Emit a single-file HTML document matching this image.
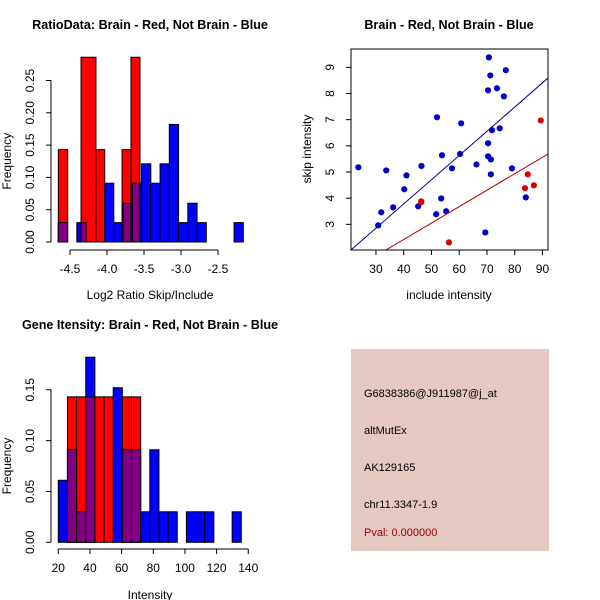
<!DOCTYPE html>
<html><head><meta charset="utf-8"><style>
body{margin:0;background:#fff}
svg{display:block;font-family:"Liberation Sans",Arial,sans-serif}
</style></head><body>
<svg id="s" width="600" height="600" viewBox="0 0 600 600" xmlns="http://www.w3.org/2000/svg">
<rect x="0" y="0" width="600" height="600" fill="#fff"/>
<g>
<rect x="351" y="349" width="198" height="202" fill="#E5C8C1"/>
<text x="364" y="397" font-size="11">G6838386@J911987@j_at</text>
<text x="364" y="434" font-size="11">altMutEx</text>
<text x="364" y="471" font-size="11">AK129165</text>
<text x="364" y="508" font-size="11">chr11.3347-1.9</text>
<text x="364" y="536" font-size="11" fill="#A00000">Pval: 0.000000</text>
</g>
</svg>
<script>
// ---- Panel 1 data: ratio histogram ----
const ratioBlueStart = -4.658;
const ratioBinWidth = 0.125;
const ratioBlue = [0.03,0,0.03,0,0,0.091,0.03,0.06,0.091,0.121,0.091,0.121,0.182,0.03,0.06,0.03,0,0,0,0.03];
const ratioRedEdges = [[-4.658,-4.531],[-4.351,-4.149],[-4.149,-4.031],[-3.797,-3.676],[-3.676,-3.554]];
const ratioRed = [0.143,0.286,0.143,0.143,0.286];
const ratioXTicks = [-4.5,-4.0,-3.5,-3.0,-2.5];
const ratioYTicks = [0,0.05,0.10,0.15,0.20,0.25];
// ---- Panel 2 data: scatter ----
const blueX = [23.65,31.9,30.8,33.7,36.2,40.2,41.0,46.4,45.2,52.0,51.7,53.5,53.8,55.3,57.4,60.3,60.7,66.2,69.4,70.7,70.4,71.2,73.6,76.8,76.1,74.6,71.8,70.4,70.4,71.4,71.4,79.0,84.0];
const blueY = [5.18,3.46,2.96,5.06,3.65,4.34,4.87,5.23,3.69,7.09,3.39,3.99,5.64,3.50,5.14,5.69,6.86,5.29,2.69,9.38,8.12,8.69,8.20,8.89,7.89,6.67,6.60,6.10,5.60,5.48,4.91,5.14,4.03];
const redX = [46.3,46.3,56.3,83.7,84.7,86.9,89.4];
const redY = [3.84,3.88,2.31,4.38,4.91,4.49,6.97];
const blueFit = [0.08,0.0925];
const redFit = [-0.09,0.0628];
const scatXTicks = [30,40,50,60,70,80,90];
const scatYTicks = [3,4,5,6,7,8,9];
// ---- Panel 3 data: intensity histogram ----
const intStart = 20;
const intBinWidth = 5.78;
const intBlue = [0.061,0.091,0.03,0.182,0,0,0.152,0.091,0.091,0.03,0.091,0.03,0.03,0,0.03,0.03,0.03,0,0,0.03];
const intRed = [0,0.143,0.143,0.143,0.143,0.143,0,0.143,0.143,0,0,0,0,0,0,0,0,0,0,0];
const intXTicks = [20,40,60,80,100,120,140];
const intYTicks = [0,0.05,0.10,0.15];

const NS="http://www.w3.org/2000/svg";
const svg=document.getElementById('s');
function el(tag,attrs,parent,txt){const e=document.createElementNS(NS,tag);for(const k in attrs)e.setAttribute(k,attrs[k]);if(txt!==undefined)e.textContent=txt;(parent||svg).appendChild(e);return e;}
function grp(name){const g=el('g',{});


return g;}
function txt(g,x,y,s,opts){const a={x:x,y:y,'font-size':opts.size||12,'text-anchor':'middle'};if(opts.bold)a['font-weight']='bold';if(opts.rot)a.transform='rotate(-90 '+x+' '+y+')';const t=el('text',a,g,s);


return t;}
function line(g,x1,y1,x2,y2,c,name){const l=el('line',{x1:x1,y1:y1,x2:x2,y2:y2,stroke:c||'#000','stroke-width':1},g);


return l;}
function bar(g,x0,x1,y0,y1,fill,name){const r=el('rect',{x:Math.min(x0,x1),y:Math.min(y0,y1),width:Math.abs(x1-x0),height:Math.abs(y1-y0),fill:fill,stroke:'#000','stroke-width':1},g);


return r;}
function fmt(v,d){return v.toFixed(d);}

function histPanel(cfg){
 const g=grp(cfg.name);
 const sx=v=>cfg.px0+(v-cfg.vx0)*cfg.kx, sy=v=>cfg.py0-v*cfg.ky;
 const blueBars=[],redBars=[];
 cfg.blue.forEach((h,i)=>{if(h>0)blueBars.push([cfg.bStart+i*cfg.bW,cfg.bStart+(i+1)*cfg.bW,h]);});
 cfg.redEdges.forEach((e,i)=>{if(cfg.red[i]>0)redBars.push([e[0],e[1],cfg.red[i]]);});
 blueBars.forEach(b=>bar(g,sx(b[0]),sx(b[1]),sy(0),sy(b[2]),'#0000FF','bar-blue'));
 redBars.forEach(r=>bar(g,sx(r[0]),sx(r[1]),sy(0),sy(r[2]),'#FF0000','bar-red'));
 redBars.forEach(r=>blueBars.forEach(b=>{const a=Math.max(r[0],b[0]),c=Math.min(r[1],b[1]);if(c-a>1e-6){bar(g,sx(a),sx(c),sy(0),sy(Math.min(r[2],b[2])),'#800080','bar-overlap');}}));
 const ay=cfg.axisY;
 line(g,sx(cfg.xt[0]),ay,sx(cfg.xt[cfg.xt.length-1]),ay,'#000','x-axis');
 cfg.xt.forEach(v=>{line(g,sx(v),ay,sx(v),ay+5,'#000','x-tick');txt(g,sx(v),ay+23,cfg.xfmt(v),{name:'x-tick-label'});});
 line(g,51,sy(cfg.yt[0]),51,sy(cfg.yt[cfg.yt.length-1]),'#000','y-axis');
 cfg.yt.forEach(v=>{line(g,46,sy(v),51,sy(v),'#000','y-tick');txt(g,34,sy(v),fmt(v,2),{rot:true,name:'y-tick-label'});});
 txt(g,150,cfg.titleY,cfg.title,{bold:true,size:12.6,name:'chart-title'});
 txt(g,150,cfg.xlabY,cfg.xlab,{name:'x-axis-title'});
 txt(g,11,(sy(cfg.yt[0])+sy(cfg.yt[cfg.yt.length-1]))/2,'Frequency',{rot:true,name:'y-axis-title'});
}
histPanel({name:'ratio-histogram',px0:70,vx0:-4.5,kx:74,py0:242,ky:646,bStart:ratioBlueStart,bW:ratioBinWidth,blue:ratioBlue,redEdges:ratioRedEdges,red:ratioRed,xt:ratioXTicks,yt:ratioYTicks,xfmt:v=>fmt(v,1),axisY:250,title:'RatioData: Brain - Red, Not Brain - Blue',titleY:29,xlab:'Log2 Ratio Skip/Include',xlabY:299});
const intEdges=intRed.map((_,i)=>[intStart+i*intBinWidth,intStart+(i+1)*intBinWidth]);
histPanel({name:'intensity-histogram',px0:58.3,vx0:20,kx:1.583,py0:542.3,ky:1017,bStart:intStart,bW:intBinWidth,blue:intBlue,redEdges:intEdges,red:intRed,xt:intXTicks,yt:intYTicks,xfmt:v=>String(v),axisY:549,title:'Gene Itensity: Brain - Red, Not Brain - Blue',titleY:329,xlab:'Intensity',xlabY:599});

// scatter
(function(){
 const g=grp('scatter-plot');
 const X0=21,X1=92,Y0=2.02,Y1=9.70,L=351,R=548,T=49,B=250;
 const sx=v=>L+(v-X0)/(X1-X0)*(R-L), sy=v=>B-(v-Y0)/(Y1-Y0)*(B-T);
 const cp=el('clipPath',{id:'clip'},g);el('rect',{x:L,y:T,width:R-L,height:B-T},cp);
 const cl=el('g',{'clip-path':'url(#clip)'},g);
 blueX.forEach((x,i)=>{const c=el('circle',{cx:sx(x),cy:sy(blueY[i]),r:3.1,fill:'#0000CC'},cl);
 
 });
 redX.forEach((x,i)=>{const c=el('circle',{cx:sx(x),cy:sy(redY[i]),r:3.1,fill:'#DD0000'},cl);
 
 });
 line(cl,sx(X0),sy(blueFit[0]+blueFit[1]*X0),sx(X1),sy(blueFit[0]+blueFit[1]*X1),'#000099','fit-line-blue');
 line(cl,sx(X0),sy(redFit[0]+redFit[1]*X0),sx(X1),sy(redFit[0]+redFit[1]*X1),'#BB0000','fit-line-red');
 const box=el('rect',{x:L,y:T,width:R-L,height:B-T,fill:'none',stroke:'#000','stroke-width':1},g);
 
 
 scatXTicks.forEach(v=>{line(g,sx(v),B,sx(v),B+5,'#000','x-tick');txt(g,sx(v),B+23,String(v),{name:'x-tick-label'});});
 scatYTicks.forEach(v=>{line(g,L-5,sy(v),L,sy(v),'#000','y-tick');txt(g,L-17,sy(v),String(v),{rot:true,name:'y-tick-label'});});
 txt(g,449,29,'Brain - Red, Not Brain - Blue',{bold:true,size:12.6,name:'chart-title'});
 txt(g,449,299,'include intensity',{name:'x-axis-title'});
 txt(g,311,149,'skip intensity',{rot:true,name:'y-axis-title'});
})();
</script>
</body></html>
